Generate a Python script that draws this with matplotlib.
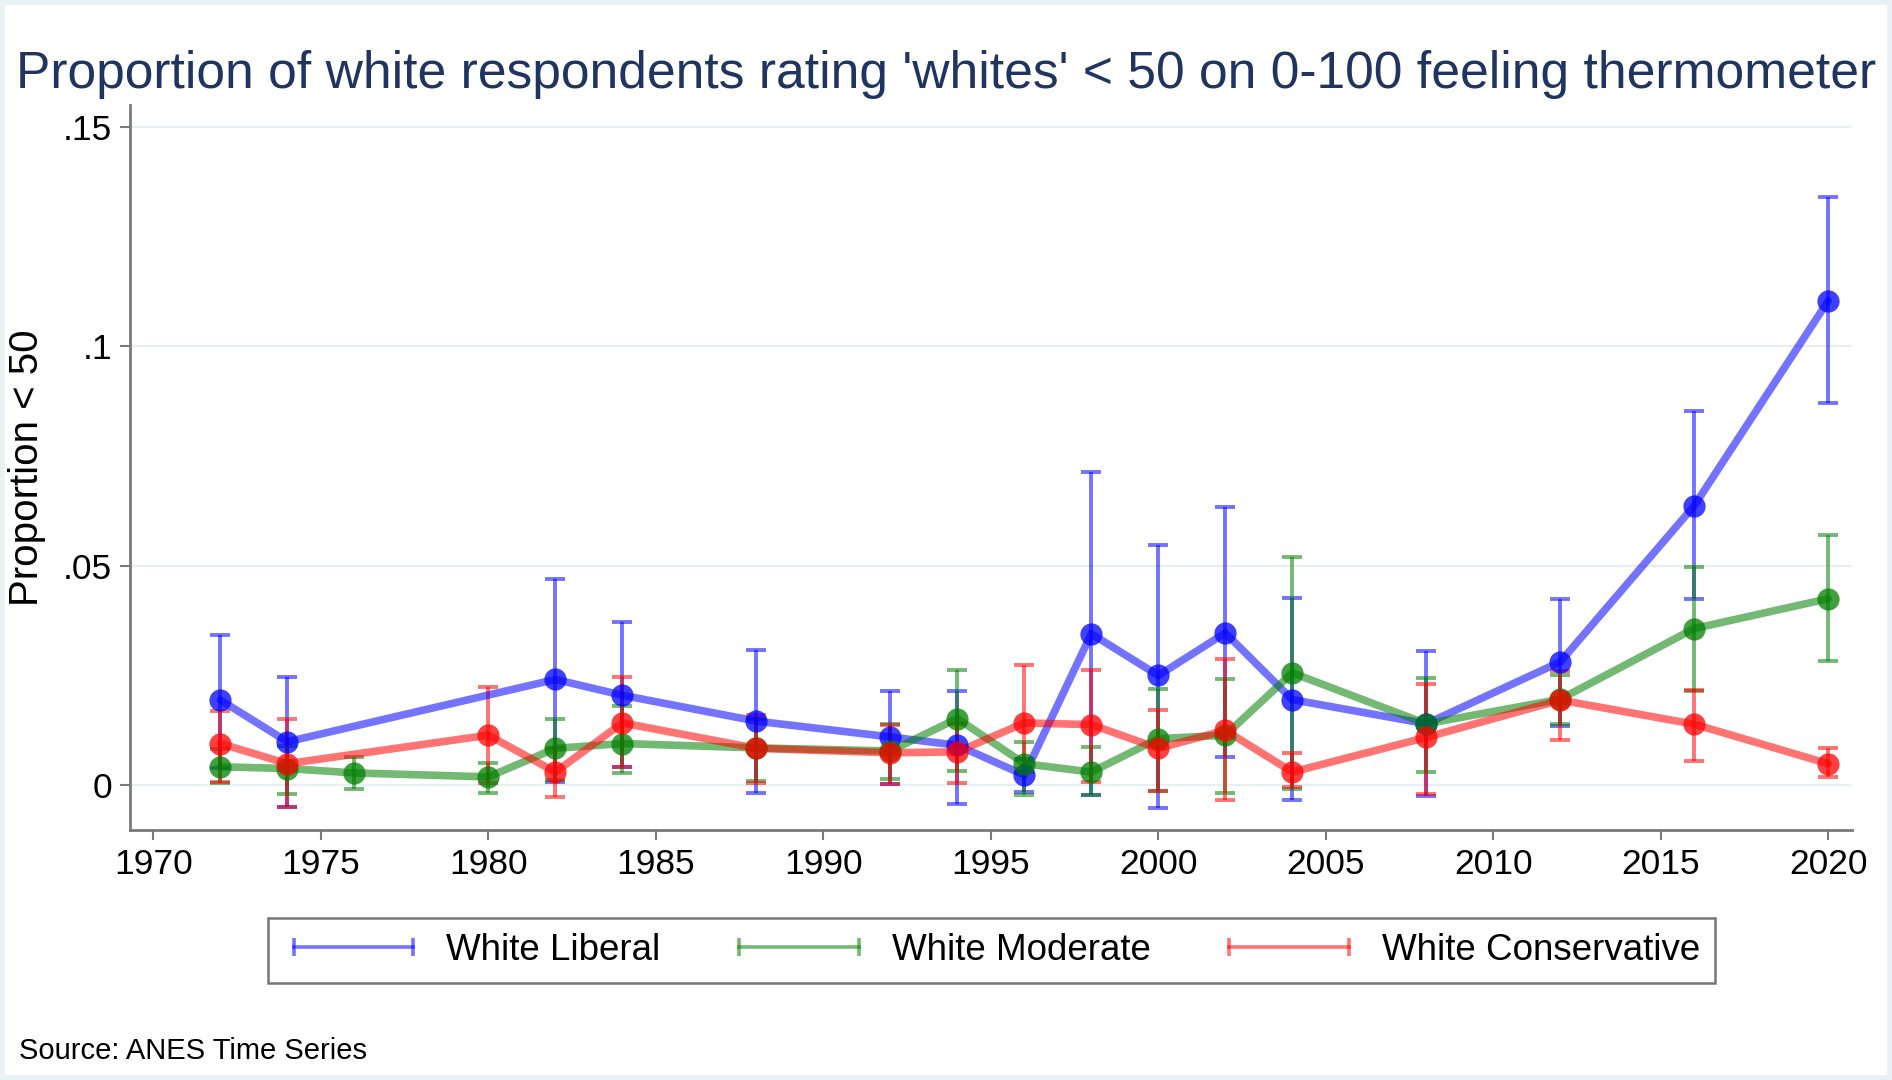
import numpy as np
import matplotlib
matplotlib.use('Agg')
import matplotlib.pyplot as plt
from matplotlib.lines import Line2D
from matplotlib.patches import Rectangle

plt.rcParams['font.family'] = ['Liberation Sans', 'DejaVu Sans']

# White Liberal
lib_years = [1972, 1974, 1982, 1984, 1988, 1992, 1994, 1996, 1998, 2000, 2002, 2004, 2008, 2012, 2016, 2020]
lib_y = [0.0194, 0.0099, 0.0241, 0.0205, 0.0146, 0.0110, 0.0091, 0.0023, 0.0345, 0.0250, 0.0347, 0.0195, 0.0140, 0.0281, 0.0637, 0.1104]
lib_lo = [0.0040, -0.0049, 0.0008, 0.0042, -0.0017, 0.0002, -0.0042, -0.0015, -0.0023, -0.0051, 0.0065, -0.0033, -0.0025, 0.0134, 0.0425, 0.0870]
lib_hi = [0.0342, 0.0247, 0.0470, 0.0371, 0.0307, 0.0214, 0.0215, 0.0060, 0.0714, 0.0547, 0.0635, 0.0426, 0.0305, 0.0425, 0.0853, 0.1340]

# White Moderate
mod_years = [1972, 1974, 1976, 1980, 1982, 1984, 1988, 1992, 1994, 1996, 1998, 2000, 2002, 2004, 2008, 2012, 2016, 2020]
mod_y = [0.0042, 0.0038, 0.0028, 0.0019, 0.0084, 0.0095, 0.0085, 0.0078, 0.0152, 0.0049, 0.0030, 0.0106, 0.0114, 0.0256, 0.0140, 0.0196, 0.0357, 0.0425]
mod_lo = [0.0005, -0.0019, -0.0008, -0.0017, 0.0012, 0.0027, 0.0010, 0.0015, 0.0033, -0.0023, -0.0023, -0.0013, -0.0017, -0.0008, 0.0030, 0.0140, 0.0215, 0.0282]
mod_hi = [0.0082, 0.0090, 0.0064, 0.0051, 0.0152, 0.0180, 0.0150, 0.0140, 0.0263, 0.0099, 0.0087, 0.0220, 0.0243, 0.0520, 0.0244, 0.0250, 0.0497, 0.0571]

# White Conservative
con_years = [1972, 1974, 1980, 1982, 1984, 1988, 1992, 1994, 1996, 1998, 2000, 2002, 2004, 2008, 2012, 2016, 2020]
con_y = [0.0095, 0.0049, 0.0114, 0.0030, 0.0142, 0.0084, 0.0074, 0.0076, 0.0142, 0.0138, 0.0084, 0.0125, 0.0030, 0.0109, 0.0194, 0.0139, 0.0049]
con_lo = [0.0008, -0.0049, 0.0005, -0.0027, 0.0042, 0.0005, 0.0002, 0.0005, 0.0030, 0.0008, -0.0013, -0.0033, -0.0005, -0.0020, 0.0104, 0.0055, 0.0019]
con_hi = [0.0170, 0.0152, 0.0224, 0.0085, 0.0247, 0.0160, 0.0138, 0.0140, 0.0275, 0.0263, 0.0172, 0.0288, 0.0074, 0.0230, 0.0260, 0.0218, 0.0084]

labels = ['White Liberal', 'White Moderate', 'White Conservative']
colors = ['#0000ff', '#008000', '#ff0000']

series = [(lib_years, lib_y, lib_lo, lib_hi),
          (mod_years, mod_y, mod_lo, mod_hi),
          (con_years, con_y, con_lo, con_hi)]

fig = plt.figure(figsize=(18.92, 10.8), dpi=100)
ax = fig.add_axes([0.0687, 0.2315, 0.910, 0.6713])

# confidence interval caps
for (yrs, y, lo, hi), c in zip(series, colors):
    y = np.array(y)
    err = [y - np.array(lo), np.array(hi) - y]
    ax.errorbar(yrs, y, yerr=err, fmt='none', ecolor=c, alpha=0.55,
                elinewidth=2.8, capsize=7, capthick=2.8, zorder=2)

# connected lines
for (yrs, y, lo, hi), c in zip(series, colors):
    ax.plot(yrs, y, color=c, lw=5.5, alpha=0.55, solid_capstyle='round', zorder=3)
    ax.plot(yrs, y, 'o', color=c, ms=16, mew=0, alpha=0.75, zorder=4)

ax.set_xlim(1969.3, 2020.7)
ax.set_ylim(-0.0102, 0.155)
ax.set_xticks(range(1970, 2021, 5))
ax.set_yticks([0, 0.05, 0.1, 0.15])
ax.set_yticklabels(['0', '.05', '.1', '.15'])
ax.grid(axis='y', color='#e6eff1', lw=1.6)
ax.set_axisbelow(True)
for s in ['top', 'right']:
    ax.spines[s].set_visible(False)
for s in ['left', 'bottom']:
    ax.spines[s].set_color('#7a7a7a')
    ax.spines[s].set_linewidth(2)
ax.tick_params(axis='both', labelsize=25.5, color='#7a7a7a', width=1.5, length=7, pad=6)
ax.set_ylabel('Proportion < 50', fontsize=29, labelpad=12)

fig.text(0.5, 0.931, "Proportion of white respondents rating 'whites' < 50 on 0-100 feeling thermometer",
         ha='center', va='center', fontsize=37.2, color='#1f3461')

handles = [Line2D([], [], color=c, lw=2.6, alpha=0.55, marker='|', ms=13, mew=2.6)
           for c in colors]
leg = fig.legend(handles, labels, loc='center', bbox_to_anchor=(0.524, 0.12), ncol=3,
                 numpoints=2, fontsize=26.5, handlelength=3.84, handletextpad=0.6,
                 columnspacing=1.84, frameon=True, fancybox=False, borderpad=0.4)
leg.get_frame().set_edgecolor('#555555')
leg.get_frame().set_linewidth(1.8)

fig.text(0.01, 0.027, 'Source: ANES Time Series', fontsize=21, va='center')

fig.patches.append(Rectangle((0, 0), 1, 1, transform=fig.transFigure, fill=False,
                             edgecolor='#eaf1f4', lw=7))

fig.savefig('out.png', dpi=100)
